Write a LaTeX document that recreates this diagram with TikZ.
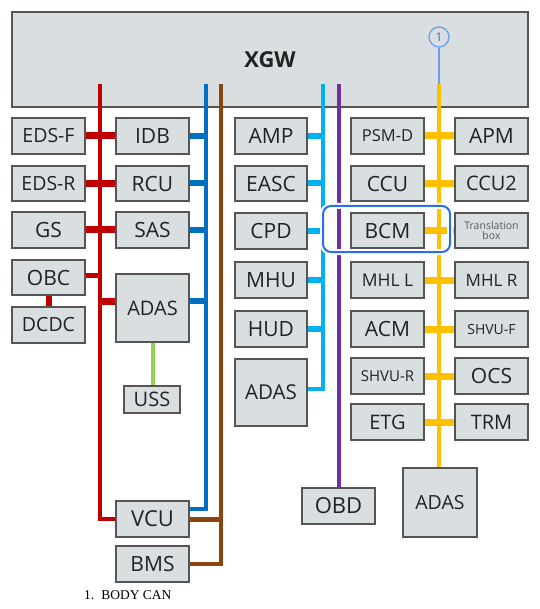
\documentclass[tikz,border=0pt]{standalone}
\usepackage{fontspec}
\setmainfont{Open Sans}
\newfontfamily\capfont{Liberation Serif}
\pgfdeclarelayer{bg}
\pgfdeclarelayer{wires}
\pgfsetlayers{bg,wires,main}
\definecolor{boxfill}{HTML}{D9DFE1}
\definecolor{boxline}{HTML}{555555}
\definecolor{txt}{HTML}{222222}
\definecolor{cred}{HTML}{C00000}
\definecolor{cblue}{HTML}{0070C0}
\definecolor{cbrown}{HTML}{8B4513}
\definecolor{ccyan}{HTML}{00B0F0}
\definecolor{cpurple}{HTML}{7030A0}
\definecolor{cyellow}{HTML}{FFC000}
\definecolor{cgreen}{HTML}{92D050}
\definecolor{hiblue}{HTML}{2A6FEA}
\definecolor{lblue}{HTML}{6D9EEB}
\tikzset{
  ecu/.style={draw=boxline, line width=1.3pt, fill=boxfill, inner sep=0pt, text=txt, align=center},
  fs/.style={font=\fontsize{#1}{#1}\selectfont},
  wire/.style={line width=#1, line cap=butt, line join=miter},
}
\newcommand\ecubox[7][21]{\node[ecu, fs=#1, minimum width={#5-#3}, minimum height={#6-#4}] (#2) at ({(#3+#5)/2},{(#4+#6)/2}) {#7};}
\begin{document}
\begin{tikzpicture}[x=1pt,y=-1pt]
\useasboundingbox (0,0) rectangle (539,609);
\begin{pgfonlayer}{bg}
\node[ecu, minimum width=516, minimum height=95, font=\bfseries\fontsize{22}{22}\selectfont] (xgw) at (270,59.5) {XGW};
\end{pgfonlayer}
\coordinate (rtop) at (99.5,84);
\coordinate (btop) at (206,84);
\coordinate (brtop) at (221,84);
\coordinate (ctop) at (323,84);
\coordinate (ptop) at (339,84);
\coordinate (ytop) at (439,84);
% left column
\ecubox[19.5]{edsf}{12}{118}{85}{154}{EDS-F}
\ecubox[19.5]{edsr}{12}{166}{85}{201}{EDS-R}
\ecubox[21]{gs}{12}{212}{85}{248}{GS}
\ecubox[21]{obc}{12}{260}{85}{295}{OBC}
\ecubox[19.5]{dcdc}{12}{307}{85}{343}{DCDC}
% second column
\ecubox{idb}{116}{118}{189}{154}{IDB}
\ecubox{rcu}{116}{166}{189}{201}{RCU}
\ecubox{sas}{116}{212}{189}{248}{SAS}
\ecubox[20]{adasa}{116}{274}{189}{342}{ADAS}
\ecubox[20]{uss}{124}{386}{180}{413}{USS}
\ecubox[22]{vcu}{116}{501}{189}{537}{VCU}
\ecubox{bms}{116}{546}{189}{582}{BMS}
% third column
\ecubox{amp}{235}{118}{307}{154}{AMP}
\ecubox{easc}{235}{166}{307}{201}{EASC}
\ecubox{cpd}{235}{213}{307}{249}{CPD}
\ecubox{mhu}{235}{262}{307}{298}{MHU}
\ecubox{hud}{235}{311}{307}{347}{HUD}
\ecubox[20.5]{adasb}{235}{359}{307}{426}{ADAS}
\ecubox[22]{obd}{302}{488}{375}{524}{OBD}
% fourth column
\ecubox[16.5]{psmd}{351}{118}{424}{154}{PSM-D}
\ecubox{ccu}{351}{166}{424}{201}{CCU}
\ecubox{bcm}{351}{213}{424}{248}{BCM}
\ecubox[17.5]{mhll}{351}{262}{424}{298}{MHL L}
\ecubox{acm}{351}{311}{424}{347}{ACM}
\ecubox[15]{shvur}{351}{358}{424}{394}{SHVU-R}
\ecubox[20]{etg}{351}{404}{424}{440}{ETG}
% fifth column
\ecubox{apm}{455}{118}{528}{154}{APM}
\ecubox[20]{ccutwo}{455}{166}{528}{201}{CCU2}
\ecubox[10.5]{trans}{455}{213}{528}{248}{\textcolor{black!65}{Translation}\\\textcolor{black!65}{box}}
\ecubox[17]{mhlr}{455}{262}{528}{298}{MHL R}
\ecubox[14]{shvuf}{455}{311}{528}{347}{SHVU-F}
\ecubox{ocs}{455}{358}{528}{394}{OCS}
\ecubox[20]{trm}{455}{404}{528}{440}{TRM}
\ecubox[19.5]{adasc}{403}{468}{477}{537}{ADAS}
% wires
\begin{pgfonlayer}{wires}
\draw[wire=4pt, cred] (rtop) |- (vcu.west);
\foreach \a/\b in {edsf/idb, edsr/rcu, gs/sas} \draw[wire=7pt, cred] (\a.east) -- (\b.west);
\draw[wire=5pt, cred] ([yshift=2.5pt]obc.east) -- ([yshift=2.5pt]obc.east -| rtop);
\draw[wire=7pt, cred] ([yshift=7pt]adasa.west) -- ([yshift=7pt]adasa.west -| rtop);
\draw[wire=6pt, cred] (obc.south) -- (dcdc.north);
\draw[wire=3.5pt, cblue] (btop) |- ([yshift=10pt]vcu.east);
\foreach \a in {idb,rcu,sas} \draw[wire=6pt, cblue] (\a.east) -- (\a.east -| btop);
\draw[wire=6pt, cblue] ([yshift=7pt]adasa.east) -- ([yshift=7pt]adasa.east -| btop);
\draw[wire=4.5pt, cbrown] (brtop) |- (bms.east);
\draw[wire=5pt, cbrown] (vcu.east) -- (vcu.east -| brtop);
\draw[wire=4pt, cgreen] (adasa.south) -- (adasa.south |- uss.north);
\draw[wire=3.5pt, ccyan] (ctop) |- ([yshift=3.5pt]adasb.east);
\foreach \a in {amp,easc,cpd,mhu,hud} \draw[wire=6pt, ccyan] (\a.east) -- (\a.east -| ctop);
\draw[wire=3.5pt, cpurple] (ptop) -- (ptop |- obd.north);
\draw[wire=4pt, cyellow] (ytop) -- (ytop |- adasc.north);
\foreach \a/\b in {psmd/apm, ccu/ccutwo, bcm/trans, mhll/mhlr, acm/shvuf, shvur/ocs, etg/trm} \draw[wire=7pt, cyellow] (\a.east) -- (\b.west);
\end{pgfonlayer}
% highlight of BCM
\draw[white, line width=6pt, rounded corners=8pt] (323,206) rectangle (450,252);
\draw[hiblue, line width=2pt, rounded corners=8pt] (323,206) rectangle (450,252);
% callout
\node[circle, draw=lblue, line width=1.3pt, minimum size=20, inner sep=0pt, text=hiblue, font=\fontsize{12}{12}\selectfont] (c1) at (439,37) {1};
\draw[lblue, line width=1.5pt] (c1.south) -- (ytop);
% caption
\node[anchor=base west, inner sep=0pt, font=\capfont\fontsize{13.5}{13.5}\selectfont] (cap) at (84,599) {1.\hspace{7pt}BODY CAN};
\end{tikzpicture}
\end{document}
